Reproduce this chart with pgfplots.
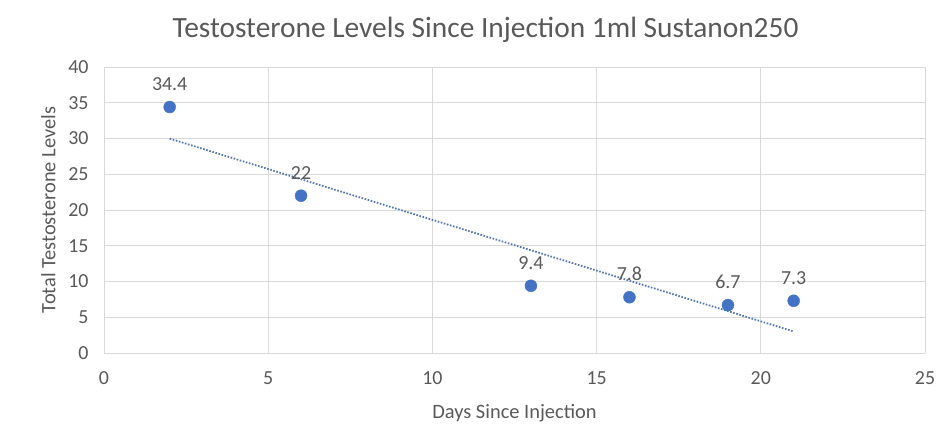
\documentclass[border=0pt]{standalone}
\usepackage{pgfplots}
\pgfplotsset{compat=1.18}
\usepackage{fontspec}
\setmainfont{Carlito}
\definecolor{txt}{HTML}{595959}
\definecolor{grd}{HTML}{D9D9D9}
\definecolor{mk}{HTML}{4472C4}
\begin{document}
\begin{tikzpicture}[x=1bp,y=1bp]
\path[use as bounding box] (0,0) rectangle (948,442);
\begin{axis}[
  at={(104bp,89bp)}, anchor=south west,
  scale only axis, width=821bp, height=286bp,
  xmin=0, xmax=25, ymin=0, ymax=40,
  xtick={0,5,...,25}, ytick={0,5,...,40},
  grid=major, major grid style={grd, line width=0.9pt},
  axis line style={draw=none},
  tick style={draw=none},
  ticklabel style={font=\fontsize{20}{22}\selectfont, text=txt},
  xticklabel style={yshift=-15bp},
  yticklabel style={xshift=-12bp},
  /pgf/number format/assume math mode=true,
  xlabel={Days Since Injection},
  ylabel={Total Testosterone Levels},
  label style={font=\fontsize{20.5}{22}\selectfont, text=txt},
  xlabel style={yshift=-13bp},
  ylabel style={yshift=6bp},
  title={Testosterone Levels Since Injection 1ml Sustanon250},
  title style={font=\fontsize{29.5}{32}\selectfont, text=txt, yshift=15bp, xshift=-29bp},
  clip=false,
]
\addplot[mk!75!gray, dash pattern=on 1.6pt off 1.6pt, line width=1.8pt] coordinates {(2,29.98) (21,3.01)};
\addplot[only marks, mark=*, mark size=6bp, mk,
  nodes near coords, point meta=explicit symbolic,
  every node near coord/.style={font=\fontsize{20}{22}\selectfont, text=txt, yshift=13bp}]
  coordinates {(2,34.4)[34.4] (6,22)[22] (13,9.4)[9.4] (16,7.8)[7.8] (19,6.7)[6.7] (21,7.3)[7.3]};
\end{axis}
\end{tikzpicture}
\end{document}
